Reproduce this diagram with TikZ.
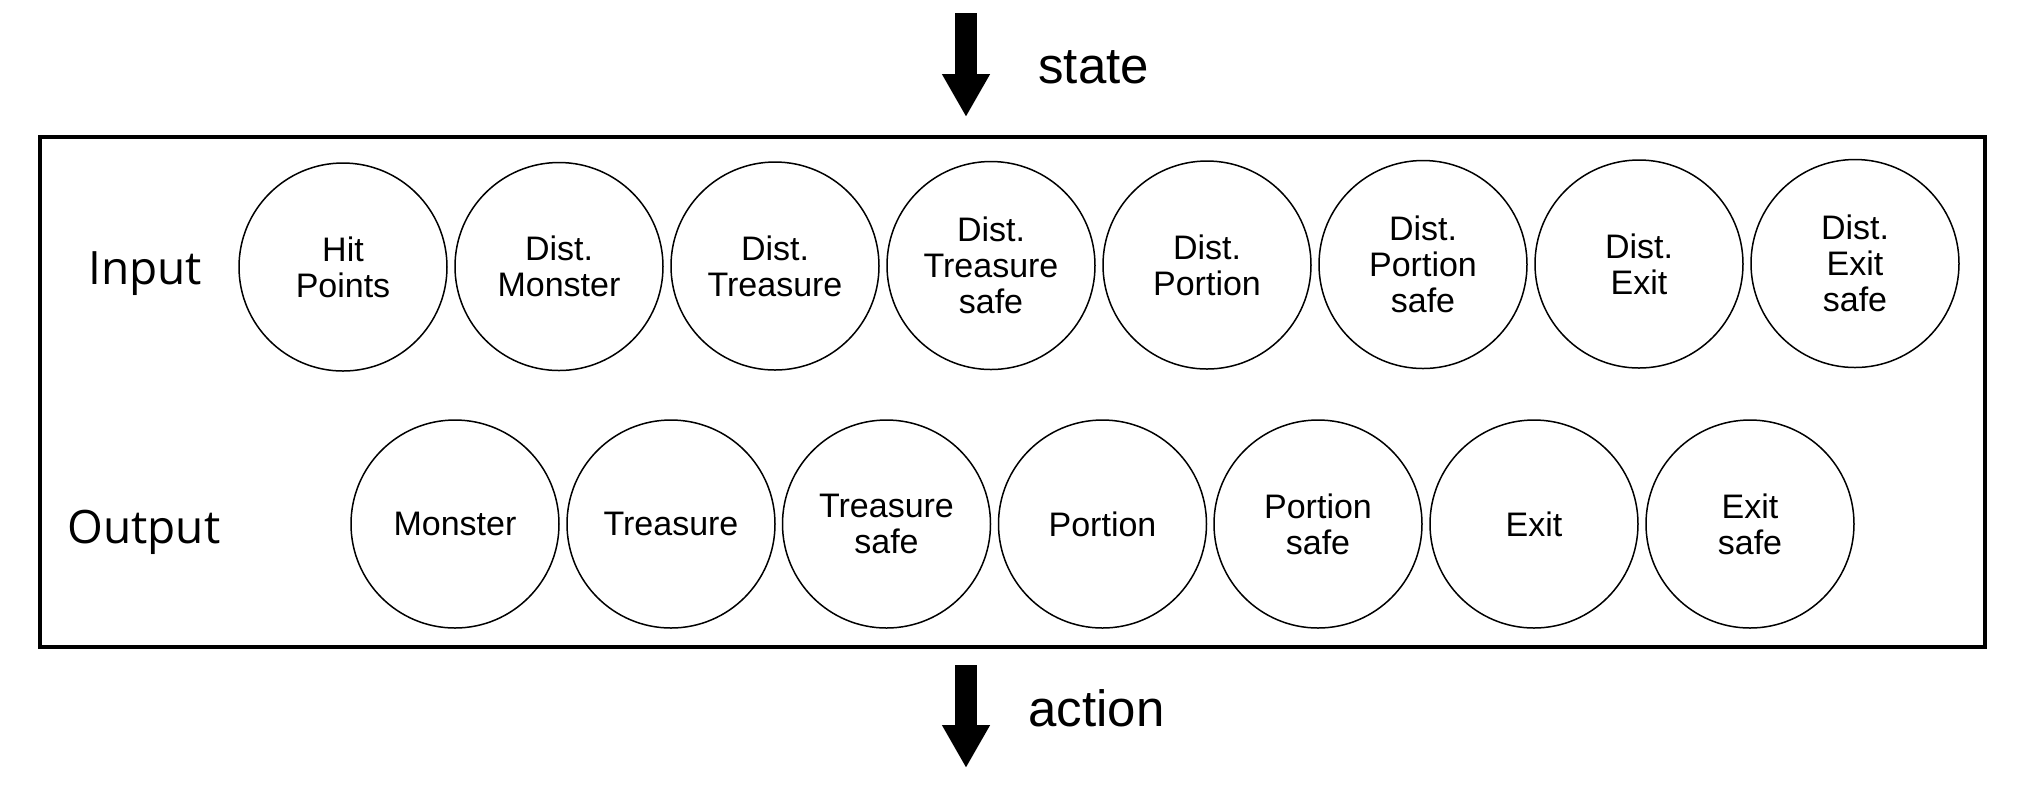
\documentclass[tikz,border=0pt]{standalone}
\usepackage{fontspec}
\setmainfont{Liberation Sans}
\newfontfamily\labelfont{Open Sans}
\usetikzlibrary{arrows.meta}
\begin{document}
\begin{tikzpicture}[x=0.5pt,y=-0.5pt,
  unit/.style={circle, draw, line width=0.75pt, inner sep=0pt, minimum size=104pt, align=center, font=\fontsize{17}{18}\selectfont},
  bigarrow/.style={line width=11pt, -{Triangle[width=22.5pt,length=21.5pt]}},
  rowlabel/.style={font=\labelfont\fontsize{23}{27}\selectfont, anchor=base west, inner sep=0pt},
  flowlabel/.style={font=\fontsize{25.5}{30}\selectfont, anchor=base west, inner sep=0pt}]
\useasboundingbox (0,0) rectangle (2020,784);
\node[draw, line width=1.65pt, minimum width=972.5pt, minimum height=255pt, inner sep=0pt] (frame) at (1012.5,392) {};
% arrows
\coordinate (sTop) at (966,13);
\coordinate (sTip) at (966,117);
\coordinate (aTop) at (966,665);
\coordinate (aTip) at (966,768);
\draw[bigarrow] (sTop) -- (sTip);
\draw[bigarrow] (aTop) -- (aTip);
\node[flowlabel] (state) at (1038,83) {state};
\node[flowlabel] (action) at (1028,726) {action};
% row labels
\node[rowlabel] (input) at (88,284) {Input};
\node[rowlabel] (output) at (67,543) {Output};
% input units
\node[unit] (i1) at (343,267) {Hit\\Points};
\node[unit] (i2) at (559,266.5) {Dist.\\Monster};
\node[unit] (i3) at (775,266) {Dist.\\Treasure};
\node[unit] (i4) at (991,265.5) {Dist.\\Treasure\\safe};
\node[unit] (i5) at (1207,265) {Dist.\\Portion};
\node[unit] (i6) at (1423,264.5) {Dist.\\Portion\\safe};
\node[unit] (i7) at (1639,264) {Dist.\\Exit};
\node[unit] (i8) at (1855,263.5) {Dist.\\Exit\\safe};
% output units
\node[unit] (o1) at (455,524) {Monster};
\node[unit] (o2) at (671,524) {Treasure};
\node[unit] (o3) at (886.5,524) {Treasure\\safe};
\node[unit] (o4) at (1102.5,524) {Portion};
\node[unit] (o5) at (1318,524) {Portion\\safe};
\node[unit] (o6) at (1534,524) {Exit};
\node[unit] (o7) at (1750,524) {Exit\\safe};
\end{tikzpicture}
\end{document}
